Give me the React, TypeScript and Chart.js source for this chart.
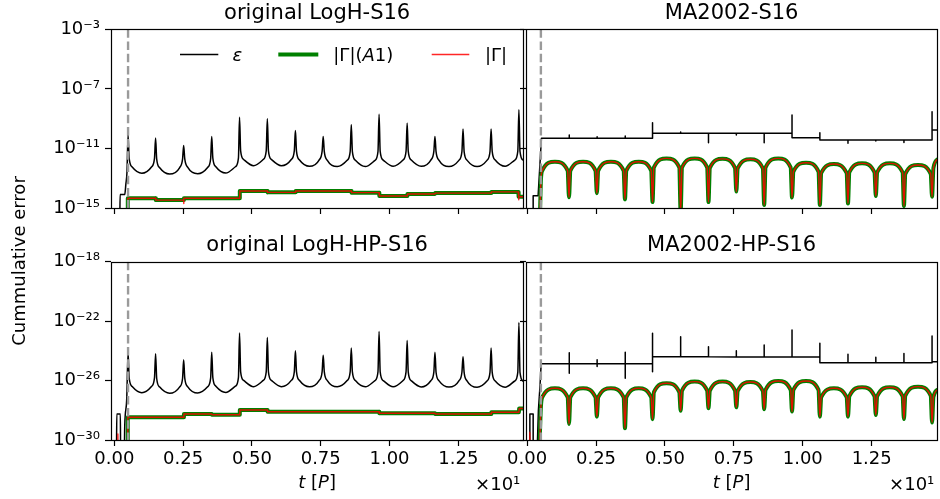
import React, { useEffect, useRef } from 'react';
import { Chart, registerables } from 'chart.js';

Chart.register(...registerables);
Chart.defaults.font.family = '"DejaVu Sans", sans-serif';
Chart.defaults.color = '#000';

type Pt = [number, number];

// x: time t in periods P (axis shows t/10 with a ×10¹ offset); y: log10 of the cumulative error
const xTicks = [0, 2.5, 5, 7.5, 10, 12.5];
const topYTicks = [-15, -11, -7, -3];
const bottomYTicks = [-30, -26, -22, -18];
const startLineT = 0.5;

const panelTitles = ['original LogH-S16', 'MA2002-S16', 'original LogH-HP-S16', 'MA2002-HP-S16'];

// ---- original LogH-S16 ----
const tlEps: Pt[] = [
  [0.20, -16], [0.21, -14.1], [0.38, -14.1], [0.42, -13.4], [0.46, -12.6], [0.50, -10.1],
  [0.54, -11.67], [0.65, -12.25], [1.00, -12.67], [1.35, -12.25], [1.46, -11.67], [1.50, -10.3],
  [1.54, -11.72], [1.65, -12.3], [2.01, -12.72], [2.37, -12.3], [2.48, -11.72], [2.52, -10.8],
  [2.56, -11.7], [2.67, -12.28], [3.03, -12.7], [3.39, -12.28], [3.50, -11.7], [3.54, -10.2],
  [3.58, -11.65], [3.69, -12.23], [4.05, -12.65], [4.40, -12.23], [4.51, -11.65], [4.55, -8.9],
  [4.59, -11.16], [4.70, -11.74], [5.06, -12.16], [5.41, -11.74], [5.52, -11.16], [5.56, -9.0],
  [5.60, -11.16], [5.71, -11.74], [6.07, -12.16], [6.43, -11.74], [6.54, -11.16], [6.58, -9.8],
  [6.62, -11.2], [6.73, -11.78], [7.09, -12.2], [7.44, -11.78], [7.55, -11.2], [7.59, -10.2],
  [7.63, -11.22], [7.74, -11.8], [8.10, -12.22], [8.46, -11.8], [8.57, -11.22], [8.61, -9.4],
  [8.65, -11.22], [8.76, -11.8], [9.12, -12.22], [9.47, -11.8], [9.58, -11.22], [9.62, -8.7],
  [9.66, -11.2], [9.77, -11.78], [10.13, -12.2], [10.49, -11.78], [10.60, -11.2], [10.64, -9.3],
  [10.68, -11.2], [10.79, -11.78], [11.15, -12.2], [11.50, -11.78], [11.61, -11.2], [11.65, -10.2],
  [11.69, -11.22], [11.80, -11.8], [12.16, -12.22], [12.52, -11.8], [12.63, -11.22], [12.67, -9.7],
  [12.71, -11.22], [12.82, -11.8], [13.18, -12.22], [13.54, -11.8], [13.65, -11.22], [13.69, -9.7],
  [13.73, -11.2], [13.84, -11.78], [14.20, -12.2], [14.55, -11.78], [14.66, -11.2], [14.70, -8.4],
  [14.74, -11.2], [14.85, -11.78], [14.95, -12.0],
];
const tlGammaA1: Pt[] = [
  [0.48, -16], [0.49, -14.35], [1.50, -14.35], [1.51, -14.47], [2.52, -14.47], [2.53, -14.35],
  [4.55, -14.35], [4.56, -13.86], [5.56, -13.86], [5.57, -13.95], [6.58, -13.95], [6.59, -13.86],
  [8.61, -13.86], [8.62, -13.97], [9.62, -13.97], [9.63, -14.19], [10.64, -14.19], [10.65, -14.06],
  [11.65, -14.06], [11.66, -14.0], [13.69, -14.0], [13.70, -13.92], [14.68, -13.92], [14.69, -14.24],
  [14.95, -14.24],
];
const tlGamma: Pt[] = [
  [0.48, -16], [0.49, -14.35], [1.50, -14.35], [1.51, -14.47], [2.52, -14.47], [2.52, -14.7], [2.53, -14.35],
  [4.55, -14.35], [4.56, -13.86], [5.56, -13.86], [5.57, -13.95], [6.58, -13.95], [6.59, -13.86],
  [8.61, -13.86], [8.62, -13.97], [9.62, -13.97], [9.63, -14.19], [10.64, -14.19], [10.65, -14.06],
  [11.65, -14.06], [11.66, -14.0], [13.69, -14.0], [13.70, -13.92], [14.68, -13.92], [14.69, -14.45],
  [14.70, -14.24], [14.95, -14.24],
];

// ---- MA2002-S16 ----
const trEps: Pt[] = [
  [0.22, -16], [0.22, -14.17], [0.40, -14.17], [0.52, -10.32],
  [1.53, -10.32], [1.53, -10.1], [1.53, -10.32],
  [2.54, -10.32], [2.54, -10.22], [2.54, -10.32],
  [3.56, -10.32], [3.56, -10.17], [3.56, -10.32],
  [4.55, -10.32], [4.55, -9.27], [4.55, -9.98],
  [5.57, -9.98], [5.57, -9.9], [5.57, -9.98],
  [6.58, -9.98], [6.58, -10.62], [6.58, -9.98],
  [7.59, -9.98], [7.59, -10.1], [7.59, -9.98],
  [8.60, -9.98], [8.60, -10.62], [8.60, -9.98],
  [9.61, -9.98], [9.61, -8.76], [9.61, -10.28],
  [10.62, -10.28], [10.62, -9.94], [10.62, -10.43],
  [11.64, -10.43], [11.64, -10.66], [11.64, -10.43],
  [12.65, -10.43], [12.65, -10.5], [12.65, -10.43],
  [13.67, -10.43], [13.67, -10.6], [13.67, -10.43],
  [14.69, -10.43], [14.69, -8.53], [14.69, -9.76], [14.95, -9.76],
];
const trGamma: Pt[] = [
  [0.46, -16], [0.50, -13.2], [0.55, -12.49], [1.01, -11.89], [1.47, -12.49], [1.52, -14.28],
  [1.57, -12.49], [2.03, -11.89], [2.48, -12.49], [2.53, -14.01],
  [2.58, -12.49], [3.04, -11.89], [3.50, -12.49], [3.55, -14.42],
  [3.60, -12.49], [4.05, -11.89], [4.50, -12.49], [4.55, -14.6],
  [4.60, -12.27], [5.06, -11.67], [5.52, -12.27], [5.57, -15.3],
  [5.62, -12.27], [6.08, -11.67], [6.53, -12.27], [6.58, -14.6],
  [6.63, -12.3], [7.09, -11.7], [7.54, -12.3], [7.59, -13.9],
  [7.64, -12.33], [8.10, -11.73], [8.55, -12.33], [8.60, -14.8],
  [8.65, -12.27], [9.11, -11.67], [9.56, -12.27], [9.61, -14.3],
  [9.66, -12.56], [10.12, -11.96], [10.57, -12.56], [10.62, -14.8],
  [10.67, -12.65], [11.13, -12.05], [11.59, -12.65], [11.64, -14.69],
  [11.69, -12.6], [12.15, -12.0], [12.60, -12.6], [12.65, -14.2],
  [12.70, -12.6], [13.16, -12.0], [13.62, -12.6], [13.67, -14.87],
  [13.72, -12.71], [14.18, -12.11], [14.64, -12.71], [14.69, -14.24],
  [14.74, -12.3], [14.92, -11.7],
];

// ---- original LogH-HP-S16 ----
const blEps: Pt[] = [
  [0.08, -31], [0.09, -28.25], [0.22, -28.25], [0.23, -31], [0.36, -31], [0.38, -29.0], [0.45, -27.3], [0.50, -24.1],
  [0.54, -25.82], [0.65, -26.4], [1.00, -26.82], [1.35, -26.4], [1.46, -25.82], [1.50, -24.2],
  [1.54, -25.86], [1.65, -26.44], [2.01, -26.86], [2.37, -26.44], [2.48, -25.86], [2.52, -24.6],
  [2.56, -25.84], [2.67, -26.42], [3.03, -26.84], [3.39, -26.42], [3.50, -25.84], [3.54, -24.1],
  [3.58, -25.8], [3.69, -26.38], [4.05, -26.8], [4.40, -26.38], [4.51, -25.8], [4.55, -22.8],
  [4.59, -25.41], [4.70, -25.99], [5.06, -26.41], [5.41, -25.99], [5.52, -25.41], [5.56, -23.1],
  [5.60, -25.41], [5.71, -25.99], [6.07, -26.41], [6.43, -25.99], [6.54, -25.41], [6.58, -24.0],
  [6.62, -25.42], [6.73, -26.0], [7.09, -26.42], [7.44, -26.0], [7.55, -25.42], [7.59, -24.3],
  [7.63, -25.42], [7.74, -26.0], [8.10, -26.42], [8.46, -26.0], [8.57, -25.42], [8.61, -23.8],
  [8.65, -25.42], [8.76, -26.0], [9.12, -26.42], [9.47, -26.0], [9.58, -25.42], [9.62, -22.7],
  [9.66, -25.42], [9.77, -26.0], [10.13, -26.42], [10.49, -26.0], [10.60, -25.42], [10.64, -23.3],
  [10.68, -25.43], [10.79, -26.01], [11.15, -26.43], [11.50, -26.01], [11.61, -25.43], [11.65, -24.1],
  [11.69, -25.44], [11.80, -26.02], [12.16, -26.44], [12.52, -26.02], [12.63, -25.44], [12.67, -24.4],
  [12.71, -25.45], [12.82, -26.03], [13.18, -26.45], [13.54, -26.03], [13.65, -25.45], [13.69, -23.8],
  [13.73, -25.45], [13.84, -26.03], [14.20, -26.45], [14.55, -26.03], [14.66, -25.45], [14.70, -22.1],
  [14.74, -25.45], [14.85, -26.03], [14.95, -26.2],
];
const blGammaA1: Pt[] = [
  [0.48, -31], [0.49, -28.47], [2.52, -28.47], [2.53, -28.25], [3.54, -28.25], [3.55, -28.3],
  [4.55, -28.3], [4.56, -27.98], [5.56, -27.98], [5.57, -28.1], [9.62, -28.1], [9.63, -28.2],
  [11.65, -28.2], [11.66, -28.25], [13.69, -28.25], [13.70, -28.13], [14.70, -28.13], [14.71, -27.88],
  [14.95, -27.88],
];
const blGamma: Pt[] = [
  [0.12, -31], [0.13, -29.6], [0.14, -31],
  [0.48, -31], [0.49, -28.47], [2.52, -28.47], [2.53, -28.25], [3.54, -28.25], [3.55, -28.3],
  [4.55, -28.3], [4.56, -27.98], [5.56, -27.98], [5.57, -28.1], [9.62, -28.1], [9.63, -28.2],
  [11.65, -28.2], [11.66, -28.25], [13.69, -28.25], [13.70, -28.13], [14.70, -28.13], [14.71, -27.88],
  [14.95, -27.88],
];

// ---- MA2002-HP-S16 ----
const brEps: Pt[] = [
  [0.10, -31], [0.10, -28.25], [0.22, -28.25], [0.22, -31], [0.36, -31], [0.41, -28.0], [0.47, -26.3], [0.51, -24.86],
  [1.53, -24.86], [1.53, -24.12], [1.53, -25.51], [1.53, -24.86],
  [2.54, -24.86], [2.54, -24.6], [2.54, -25.05], [2.54, -24.86],
  [3.56, -24.86], [3.56, -24.1], [3.56, -25.85], [3.56, -24.86],
  [4.55, -24.86], [4.55, -25.4], [4.55, -22.82], [4.55, -24.4],
  [5.57, -24.4], [5.57, -23.05], [5.57, -24.4],
  [6.58, -24.4], [6.58, -23.72], [6.58, -24.4],
  [7.59, -24.42], [7.59, -24.0], [7.59, -24.42],
  [8.60, -24.42], [8.60, -23.6], [8.60, -24.42],
  [9.61, -24.42], [9.61, -22.6], [9.61, -24.42],
  [10.62, -24.42], [10.62, -23.49], [10.62, -24.8],
  [11.64, -24.8], [11.64, -24.23], [11.64, -24.8],
  [12.65, -24.8], [12.65, -24.43], [12.65, -24.8],
  [13.67, -24.8], [13.67, -24.17], [13.67, -24.8],
  [14.69, -24.8], [14.69, -23.0], [14.69, -24.73], [14.95, -24.73],
];
const brGammaA1: Pt[] = [
  [0.44, -31], [0.50, -27.8], [0.55, -27.12], [1.01, -26.52], [1.47, -27.12], [1.52, -28.92],
  [1.57, -27.12], [2.03, -26.52], [2.48, -27.12], [2.53, -28.43],
  [2.58, -27.12], [3.04, -26.52], [3.50, -27.12], [3.55, -29.21],
  [3.60, -27.12], [4.05, -26.52], [4.50, -27.12], [4.55, -28.6],
  [4.60, -26.78], [5.06, -26.18], [5.52, -26.78], [5.57, -28.03],
  [5.62, -26.67], [6.08, -26.07], [6.53, -26.67], [6.58, -27.87],
  [6.63, -26.67], [7.09, -26.07], [7.54, -26.67], [7.59, -27.8],
  [7.64, -26.7], [8.10, -26.1], [8.55, -26.7], [8.60, -27.93],
  [8.65, -26.63], [9.11, -26.03], [9.56, -26.63], [9.61, -28.09],
  [9.66, -26.63], [10.12, -26.03], [10.57, -26.63], [10.62, -28.43],
  [10.67, -27.12], [11.13, -26.52], [11.59, -27.12], [11.64, -28.43],
  [11.69, -27.05], [12.15, -26.45], [12.60, -27.05], [12.65, -28.32],
  [12.70, -27.05], [13.16, -26.45], [13.62, -27.05], [13.67, -28.59],
  [13.72, -27.01], [14.18, -26.41], [14.64, -27.01], [14.69, -28.83],
  [14.74, -27.1], [14.92, -26.6],
];
const brGamma: Pt[] = [[0.09, -31], [0.10, -29.45], [0.11, -31], ...brGammaA1];

// ---------------------------------------------------------------------------
const W = 940;
const H = 499;
const YW = 100;
const XH = 30;
const FONT = '"DejaVu Sans", sans-serif';

const COL_EPS = '#000000';
const COL_A1 = '#008000';
const COL_G = 'rgba(255,0,0,0.85)';
const COL_START = '#9a9a9a';

interface Box { left: number; top: number; right: number; bottom: number }
interface Panel {
  title: string;
  eps: Pt[]; gammaA1: Pt[]; gamma: Pt[];
  epsSmooth: boolean; gammaSmooth: boolean;
  yExp: number[]; xMin: number; xMax: number;
  box: Box; yLabels: boolean; xLabels: boolean; legend: boolean; yTitle: boolean;
}

const panels: Panel[] = [
  { title: panelTitles[0], eps: tlEps, gammaA1: tlGammaA1, gamma: tlGamma, epsSmooth: true, gammaSmooth: false,
    yExp: topYTicks, xMin: -0.12, xMax: 14.86, box: { left: 111, top: 29.3, right: 523.3, bottom: 208 },
    yLabels: true, xLabels: false, legend: true, yTitle: true },
  { title: panelTitles[1], eps: trEps, gammaA1: trGamma, gamma: trGamma, epsSmooth: false, gammaSmooth: true,
    yExp: topYTicks, xMin: -0.04, xMax: 14.88, box: { left: 526, top: 29.3, right: 937.3, bottom: 208 },
    yLabels: false, xLabels: false, legend: false, yTitle: false },
  { title: panelTitles[2], eps: blEps, gammaA1: blGammaA1, gamma: blGamma, epsSmooth: true, gammaSmooth: false,
    yExp: bottomYTicks, xMin: -0.12, xMax: 14.86, box: { left: 111, top: 261.7, right: 523.3, bottom: 440 },
    yLabels: true, xLabels: true, legend: false, yTitle: false },
  { title: panelTitles[3], eps: brEps, gammaA1: brGammaA1, gamma: brGamma, epsSmooth: false, gammaSmooth: true,
    yExp: bottomYTicks, xMin: -0.04, xMax: 14.88, box: { left: 526, top: 261.7, right: 937.3, bottom: 440 },
    yLabels: false, xLabels: true, legend: false, yTitle: false },
];

const SUP: Record<string, string> = {
  '-': '\u207B', '0': '\u2070', '1': '\u00B9', '2': '\u00B2', '3': '\u00B3', '4': '\u2074',
  '5': '\u2075', '6': '\u2076', '7': '\u2077', '8': '\u2078', '9': '\u2079',
};
const sup = (n: number) => String(n).split('').map((c) => SUP[c] ?? c).join('');

const toPoints = (pairs: Pt[]) => pairs.map(([t, e]) => ({ x: t, y: Math.pow(10, e) }));

type Run = { text: string; italic?: boolean };
function drawRuns(ctx: CanvasRenderingContext2D, runs: Run[], x: number, y: number, size: number, align: 'left' | 'center' | 'right') {
  const fontOf = (r: Run) => `${r.italic ? 'italic ' : ''}${size}px ${FONT}`;
  const widths = runs.map((r) => { ctx.font = fontOf(r); return ctx.measureText(r.text).width; });
  const total = widths.reduce((a, b) => a + b, 0);
  let cx = align === 'left' ? x : align === 'center' ? x - total / 2 : x - total;
  ctx.textAlign = 'left';
  ctx.textBaseline = 'alphabetic';
  runs.forEach((r, i) => { ctx.font = fontOf(r); ctx.fillText(r.text, cx, y); cx += widths[i]; });
}

const snap = (v: number) => Math.round(v) + 0.5;

function makeChart(canvas: HTMLCanvasElement, p: Panel) {
  const yMin = p.yExp[0];
  const yMax = p.yExp[p.yExp.length - 1];
  const grid = { display: true, drawOnChartArea: false, drawTicks: true, tickLength: 6, tickWidth: 1.2, tickColor: '#000' };
  const lineCommon = { pointRadius: 0, pointHoverRadius: 0, clip: 0, fill: false, borderJoinStyle: 'round' as const };
  const smooth = (s: boolean) => (s ? { cubicInterpolationMode: 'monotone' as const } : { tension: 0 });

  const deco = {
    id: 'deco' + p.title,
    afterDatasetsDraw(chart: Chart) {
      const { ctx, chartArea: a } = chart;
      const l = snap(a.left), r = snap(a.right), t = snap(a.top), b = snap(a.bottom);
      ctx.save();
      ctx.strokeStyle = '#000';
      ctx.lineWidth = 1.2;
      ctx.strokeRect(l, t, r - l, b - t);
      ctx.restore();
    },
    afterDraw(chart: Chart) {
      const { ctx } = chart;
      const b = p.box;
      const cx = (b.left + b.right) / 2;
      ctx.save();
      ctx.fillStyle = '#000';
      drawRuns(ctx, [{ text: p.title }], cx, b.top - 10.3, 21, 'center');
      if (p.xLabels) {
        drawRuns(ctx, [{ text: 't', italic: true }, { text: ' [' }, { text: 'P', italic: true }, { text: ']' }], cx, 488, 18, 'center');
        drawRuns(ctx, [{ text: '\u00D710\u00B9' }], b.right - 3, 490, 18, 'right');
      }
      if (p.yTitle) {
        ctx.save();
        ctx.translate(25, 261);
        ctx.rotate(-Math.PI / 2);
        drawRuns(ctx, [{ text: 'Cummulative error' }], 0, 0, 18, 'center');
        ctx.restore();
      }
      if (p.legend) {
        const ly = 54.5;
        const ty = 61;
        const seg = (x1: number, x2: number, color: string, w: number) => {
          ctx.beginPath(); ctx.strokeStyle = color; ctx.lineWidth = w; ctx.moveTo(x1, ly); ctx.lineTo(x2, ly); ctx.stroke();
        };
        seg(180, 218.3, COL_EPS, 1.5);
        drawRuns(ctx, [{ text: '\u03B5', italic: true }], 232.5, ty, 18, 'left');
        seg(278.3, 318.3, COL_A1, 4);
        drawRuns(ctx, [{ text: '|\u0393|(' }, { text: 'A', italic: true }, { text: '1)' }], 333.3, ty, 18, 'left');
        seg(431.7, 469.3, COL_G, 1.4);
        drawRuns(ctx, [{ text: '|\u0393|' }], 485, ty, 18, 'left');
      }
      ctx.restore();
    },
  };

  return new Chart(canvas, {
    type: 'line',
    data: {
      datasets: [
        { label: 'start', data: [{ x: startLineT, y: Math.pow(10, yMax) }, { x: startLineT, y: Math.pow(10, yMin) }],
          borderColor: COL_START, borderWidth: 2.4, borderDash: [8.5, 3.7], tension: 0, order: 0, ...lineCommon },
        { label: '|\u0393|', data: toPoints(p.gamma), borderColor: COL_G, borderWidth: 1.4, order: 1, ...smooth(p.gammaSmooth), ...lineCommon },
        { label: '|\u0393|(A1)', data: toPoints(p.gammaA1), borderColor: COL_A1, borderWidth: 4, order: 2, ...smooth(p.gammaSmooth), ...lineCommon },
        { label: '\u03B5', data: toPoints(p.eps), borderColor: COL_EPS, borderWidth: 1.5, order: 3, ...smooth(p.epsSmooth), ...lineCommon },
      ],
    } as any,
    options: {
      responsive: false,
      animation: false,
      events: [],
      layout: { padding: { left: p.box.left - YW, top: p.box.top, right: W - p.box.right, bottom: H - p.box.bottom - XH } },
      plugins: { legend: { display: false }, tooltip: { enabled: false }, title: { display: false } },
      scales: {
        x: {
          type: 'linear', min: p.xMin, max: p.xMax, bounds: 'data',
          afterBuildTicks: (s: any) => { s.ticks = xTicks.map((v) => ({ value: v })); },
          afterFit: (s: any) => { s.height = XH; },
          ticks: { display: p.xLabels, autoSkip: false, maxRotation: 0, padding: 3, color: '#000', font: { size: 18 },
            callback: (v: any) => (Number(v) / 10).toFixed(2) },
          grid, border: { display: false },
        },
        y: {
          type: 'logarithmic', min: Math.pow(10, yMin), max: Math.pow(10, yMax), bounds: 'data',
          afterBuildTicks: (s: any) => { s.ticks = p.yExp.map((e) => ({ value: Math.pow(10, e) })); },
          afterFit: (s: any) => { s.width = YW; },
          ticks: { display: p.yLabels, autoSkip: false, padding: 5, color: '#000', font: { size: 18 },
            callback: (v: any) => '10' + sup(Math.round(Math.log10(Number(v)))) },
          grid, border: { display: false },
        },
      },
    } as any,
    plugins: [deco],
  });
}

export default function App() {
  const refs = useRef<(HTMLCanvasElement | null)[]>([]);
  useEffect(() => {
    const charts = panels.map((p, i) => makeChart(refs.current[i] as HTMLCanvasElement, p));
    return () => charts.forEach((c) => c.destroy());
  }, []);
  return (
    <div style={{ position: 'fixed', left: 0, top: 0, width: W, height: H, background: '#fff', overflow: 'hidden' }}>
      {panels.map((p, i) => (
        <canvas key={p.title} ref={(el) => { refs.current[i] = el; }} width={W} height={H}
          style={{ position: 'absolute', left: 0, top: 0, width: W, height: H }} />
      ))}
    </div>
  );
}
